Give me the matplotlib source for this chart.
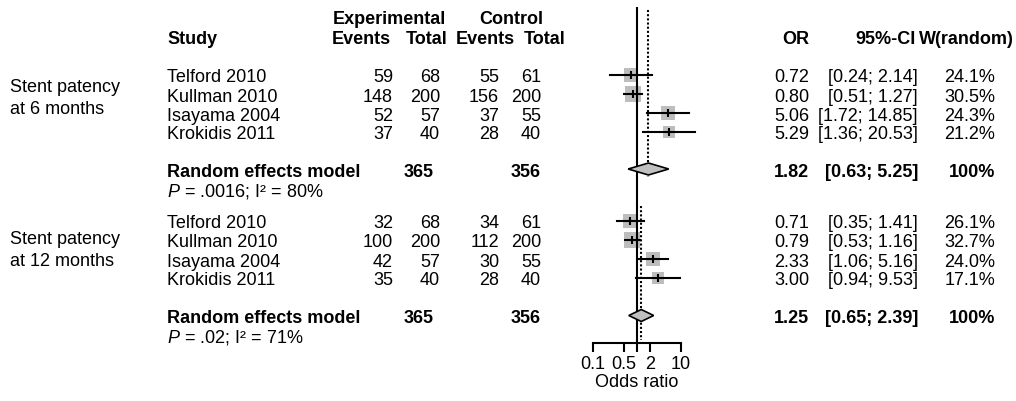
import matplotlib
matplotlib.use("Agg")
import matplotlib.pyplot as plt
from matplotlib.patches import Polygon

plt.rcParams["font.family"] = ["Liberation Sans", "DejaVu Sans"]
plt.rcParams["mathtext.fontset"] = "custom"
plt.rcParams["mathtext.rm"] = "Liberation Sans"
plt.rcParams["mathtext.it"] = "Liberation Sans:italic"

W, H = 1016, 402
FS = 13

# --- data -------------------------------------------------------------
studies = ["Telford 2010", "Kullman 2010", "Isayama 2004", "Krokidis 2011"]

exp_events_6 = [59, 148, 52, 37]
exp_total_6 = [68, 200, 57, 40]
ctrl_events_6 = [55, 156, 37, 28]
ctrl_total_6 = [61, 200, 55, 40]
or_6 = [0.72, 0.80, 5.06, 5.29]
lo_6 = [0.24, 0.51, 1.72, 1.36]
hi_6 = [2.14, 1.27, 14.85, 20.53]
w_6 = [24.1, 30.5, 24.3, 21.2]
pooled_6 = [1.82, 0.63, 5.25]
het_6 = r"$P$ = .0016; I² = 80%"

exp_events_12 = [32, 100, 42, 35]
exp_total_12 = [68, 200, 57, 40]
ctrl_events_12 = [34, 112, 30, 28]
ctrl_total_12 = [61, 200, 55, 40]
or_12 = [0.71, 0.79, 2.33, 3.00]
lo_12 = [0.35, 0.53, 1.06, 0.94]
hi_12 = [1.41, 1.16, 5.16, 9.53]
w_12 = [26.1, 32.7, 24.0, 17.1]
pooled_12 = [1.25, 0.65, 2.39]
het_12 = r"$P$ = .02; I² = 71%"

xticks = [0.1, 0.5, 1, 2, 10]
xticklabels = ["0.1", "0.5", "", "2", "10"]

# --- layout (pixels from top-left) ------------------------------------
AXIS_Y = 344
groups = [
    dict(label=["Stent patency", "at 6 months"], label_y=[88, 110],
         rows=[75.5, 94.5, 114, 132.5], sum_y=170, het_y=189.5,
         dot=(11, 178),
         ee=exp_events_6, et=exp_total_6, ce=ctrl_events_6, ct=ctrl_total_6,
         est=or_6, lo=lo_6, hi=hi_6, w=w_6, pooled=pooled_6, het=het_6),
    dict(label=["Stent patency", "at 12 months"], label_y=[240, 262],
         rows=[221.5, 240.5, 260, 278.5], sum_y=316.5, het_y=335.5,
         dot=(207, 341),
         ee=exp_events_12, et=exp_total_12, ce=ctrl_events_12, ct=ctrl_total_12,
         est=or_12, lo=lo_12, hi=hi_12, w=w_12, pooled=pooled_12, het=het_12),
]
TDY = 2.5  # text sits a touch lower than the plotted line

fig = plt.figure(figsize=(W / 100, H / 100), dpi=100)

# text layer in pixel coordinates
tax = fig.add_axes([0, 0, 1, 1])
tax.set_xlim(0, W)
tax.set_ylim(H, 0)
tax.axis("off")


def txt(x, y, s, ha="left", bold=False):
    tax.text(x, y, s, ha=ha, va="center", fontsize=FS,
             fontweight="bold" if bold else "normal", color="black")


# headers
txt(389.5, 19, "Experimental", ha="center", bold=True)
txt(511, 19, "Control", ha="center", bold=True)
txt(167, 39, "Study", bold=True)
txt(391, 39, "Events", ha="right", bold=True)
txt(447, 39, "Total", ha="right", bold=True)
txt(515, 39, "Events", ha="right", bold=True)
txt(566, 39, "Total", ha="right", bold=True)
txt(809, 39, "OR", ha="right", bold=True)
txt(916, 39, "95%-CI", ha="right", bold=True)
txt(1014, 39, "W(random)", ha="right", bold=True)

# forest panel: x on log OR scale, y in the same pixel rows
fax = fig.add_axes([593 / W, (H - AXIS_Y) / H, 88 / W, AXIS_Y / H])
fax.set_xscale("log")
fax.set_xlim(0.1, 10)
fax.set_ylim(AXIS_Y, 0)
for side in ["top", "left", "right"]:
    fax.spines[side].set_visible(False)
fax.spines["bottom"].set_linewidth(1.5)
fax.set_yticks([])
fax.set_xticks(xticks)
fax.set_xticklabels(xticklabels)
fax.minorticks_off()
fax.tick_params(axis="x", direction="out", length=6.5, width=1.5, pad=2,
                labelsize=FS)
fax.set_xlabel("Odds ratio", fontsize=FS, labelpad=1)
fax.patch.set_visible(False)

fax.vlines(1, 8, AXIS_Y, color="black", lw=1.5, zorder=4)

for g in groups:
    txt(10, g["label_y"][0], g["label"][0])
    txt(10, g["label_y"][1], g["label"][1])
    for i, name in enumerate(studies):
        y = g["rows"][i]
        ty = y + TDY
        txt(167, ty, name)
        txt(393, ty, str(g["ee"][i]), ha="right")
        txt(440, ty, str(g["et"][i]), ha="right")
        txt(499, ty, str(g["ce"][i]), ha="right")
        txt(541, ty, str(g["ct"][i]), ha="right")
        txt(809, ty, f"{g['est'][i]:.2f}", ha="right")
        txt(918, ty, f"[{g['lo'][i]:.2f}; {g['hi'][i]:.2f}]", ha="right")
        txt(995, ty, f"{g['w'][i]:.1f}%", ha="right")

        # square area follows the study weight
        side_px = 2.75 * g["w"][i] ** 0.5
        fax.plot(g["est"][i], y, marker="s", ms=side_px * 0.72, mew=0,
                 color="#bdbdbd", ls="none", clip_on=False, zorder=2)
        fax.plot([g["lo"][i], g["hi"][i]], [y, y], color="black", lw=1.5,
                 clip_on=False, zorder=3)
        fax.plot(g["est"][i], y, marker="|", ms=8 * 0.72, mew=1.5,
                 color="black", ls="none", clip_on=False, zorder=3)

    est, lo, hi = g["pooled"]
    sy = g["sum_y"]
    ty = sy + TDY
    txt(167, ty, "Random effects model", bold=True)
    txt(434, ty, str(sum(g["et"])), ha="right", bold=True)
    txt(541, ty, str(sum(g["ct"])), ha="right", bold=True)
    txt(809, ty, f"{est:.2f}", ha="right", bold=True)
    txt(918, ty, f"[{lo:.2f}; {hi:.2f}]", ha="right", bold=True)
    txt(995, ty, "100%", ha="right", bold=True)
    txt(167, g["het_y"] + TDY, g["het"])

    dia = Polygon([(lo, sy), (est, sy - 6), (hi, sy), (est, sy + 6)],
                  closed=True, facecolor="#c0c0c0", edgecolor="black",
                  lw=1.2, zorder=5, clip_on=False)
    fax.add_patch(dia)
    fax.vlines(est, g["dot"][0], g["dot"][1], color="black", lw=1.5,
               linestyles=(0, (1, 1)), zorder=4)

fig.savefig("out.png", dpi=100)
